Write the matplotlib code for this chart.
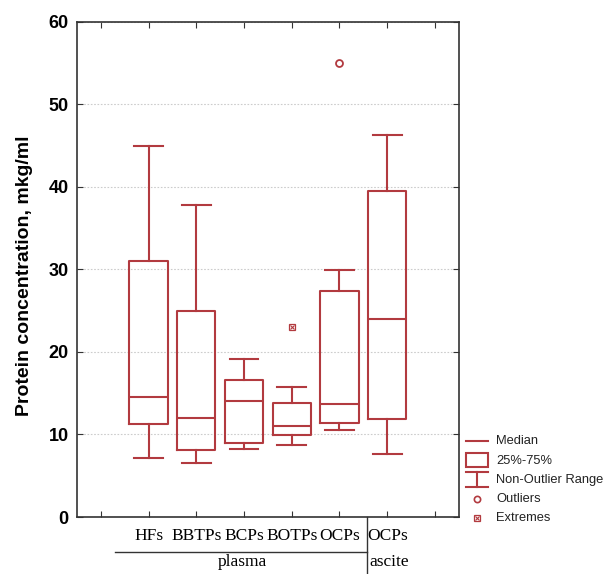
import matplotlib
matplotlib.use("Agg")
import matplotlib.pyplot as plt
from matplotlib.lines import Line2D
from matplotlib.patches import Rectangle

# ---- data ----
groups = ["HFs", "BBTPs", "BCPs", "BOTPs", "OCPs", "OCPs"]
whisker_low = [7.2, 6.5, 8.3, 8.7, 10.5, 7.6]
q1 = [11.3, 8.1, 9.0, 9.9, 11.4, 11.9]
medians = [14.5, 12.0, 14.0, 11.0, 13.7, 24.0]
q3 = [31.0, 25.0, 16.6, 13.8, 27.4, 39.5]
whisker_high = [45.0, 37.8, 19.2, 15.7, 29.9, 46.3]
outliers = {4: [55.0]}      # group index -> values
extremes = {3: [23.0]}

red = "#b23a3f"
serif = ["Liberation Serif", "DejaVu Serif"]
sans = ["Liberation Sans", "DejaVu Sans"]

fig = plt.figure(figsize=(6.08, 5.74), dpi=100)
ax = fig.add_axes([0.1266, 0.0993, 0.628, 0.8624])

stats = []
for i, g in enumerate(groups):
    stats.append(dict(label=g, whislo=whisker_low[i], q1=q1[i], med=medians[i],
                      q3=q3[i], whishi=whisker_high[i], fliers=[]))

positions = list(range(1, len(groups) + 1))
line_kw = dict(color=red, linewidth=1.5)
ax.bxp(stats, positions=positions, widths=0.8, showfliers=False,
       boxprops=line_kw, whiskerprops=line_kw, capprops=line_kw,
       medianprops=line_kw, capwidths=0.6, manage_ticks=False)

for i, vals in outliers.items():
    ax.plot([positions[i]] * len(vals), vals, "o", ms=5, mfc="none", mec=red, mew=1.3)
for i, vals in extremes.items():
    ax.plot([positions[i]] * len(vals), vals, "s", ms=5, mfc="none", mec=red, mew=0.9)
    ax.plot([positions[i]] * len(vals), vals, "x", ms=3.5, mec=red, mew=0.8)

ax.set_xlim(-0.5, 7.5)
ax.set_ylim(0, 60)
ax.set_yticks(range(0, 61, 10))
ax.set_xticks(range(8))
ax.set_xticklabels([""] + groups + [""], family=serif, fontsize=12.5)
for lab in ax.get_yticklabels():
    lab.set_family(sans)
    lab.set_fontweight("bold")
    lab.set_fontsize(13)
ax.tick_params(direction="in", length=4, top=True, right=True, color="#333333")
ax.tick_params(axis="x", pad=8)
ax.tick_params(axis="y", pad=6)
for s in ax.spines.values():
    s.set_color("#333333")
    s.set_linewidth(1.2)
ax.yaxis.grid(True, linestyle=(0, (1.5, 1.5)), color="#cccccc", linewidth=0.8)
ax.set_axisbelow(True)

ax.set_ylabel("Protein concentration, mkg/ml", family=sans, fontweight="bold",
              fontsize=14)
ax.yaxis.set_label_coords(-0.115, 0.487)

# group separators under the category labels
trans = ax.get_xaxis_transform()
ax.add_line(Line2D([5.57, 5.57], [0, -0.12], transform=trans, color="#333333",
                   lw=1.0, clip_on=False))
ax.add_line(Line2D([0.3, 5.57], [-0.0707, -0.0707], transform=trans, color="#333333",
                   lw=1.0, clip_on=False))
ax.text(2.96, -0.0909, "plasma", transform=trans, ha="center", va="center",
        family=serif, fontsize=12.5)
ax.text(6.05, -0.0909, "ascite", transform=trans, ha="center", va="center",
        family=serif, fontsize=12.5)

# legend drawn in pixel coordinates of a small axes
lax = fig.add_axes([462 / 608, 1 - 530 / 574, 146 / 608, 100 / 574])
lax.set_xlim(462, 608)
lax.set_ylim(530, 430)
lax.axis("off")
sx0, sx1, sxc = 466, 488, 477
lax.plot([sx0, sx1], [441, 441], color=red, lw=1.5)
lax.add_patch(Rectangle((sx0, 453), sx1 - sx0, 14, fill=False, ec=red, lw=1.5))
lax.plot([sx0, sx1], [472, 472], color=red, lw=1.5)
lax.plot([sx0, sx1], [487, 487], color=red, lw=1.5)
lax.plot([sxc, sxc], [472, 487], color=red, lw=1.5)
lax.plot([sxc], [499], "o", ms=4.5, mfc="none", mec=red, mew=1.2)
lax.plot([sxc], [518], "s", ms=5, mfc="none", mec=red, mew=0.9)
lax.plot([sxc], [518], "x", ms=3.5, mec=red, mew=0.8)
legend_labels = ["Median", "25%-75%", "Non-Outlier Range", "Outliers", "Extremes"]
legend_y = [441, 461, 480, 499, 518]
for t, y in zip(legend_labels, legend_y):
    lax.text(496, y, t, ha="left", va="center", family=sans, fontsize=9.3,
             color="#222222")

fig.savefig("out.png", dpi=100)
